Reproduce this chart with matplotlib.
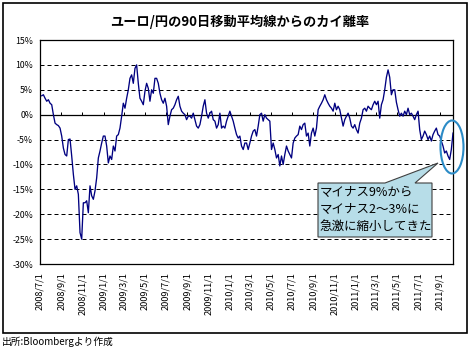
import numpy as np
import pandas as pd
import matplotlib
matplotlib.use("Agg")
import matplotlib.pyplot as plt
from matplotlib.patches import Polygon, Ellipse, Rectangle

plt.rcParams['font.family'] = ['Noto Sans CJK JP', 'DejaVu Sans']

# ---------------- data ----------------
title = "ユーロ/円の90日移動平均線からのカイ離率"
footer = "出所:Bloombergより作成"
note_lines = ["マイナス9%から", "マイナス2〜3%に", "急激に縮小してきた"]

start_date = "2008-07-06"
end_date = "2011-10-10"
axis_start = "2008-07-01"

# deviation (%), roughly every 5 days
seg1 = [3.8, 4.0, 3.3, 2.7, 3.0, 2.3, 2.0, 0.0, -1.7, -2.0, -2.2, -2.7, -4.3, -6.7, -8.0, -8.3,
        -5.0, -4.9, -8.3, -12.0, -15.0, -14.3, -16.0, -23.7, -25.0, -17.7, -17.7, -17.3, -19.7,
        -14.3, -16.3, -17.0, -15.3, -12.7, -8.7, -7.3, -5.7, -4.3, -4.3, -6.3, -9.7, -8.3, -9.0,
        -6.3, -7.3, -4.3, -4.0, -2.7, -0.3, 2.3, 1.3, 3.3, 5.0, 7.3, 8.0, 6.3, 9.3, 10.0, 6.3,
        3.3, 2.7, 2.0, 4.7, 6.3, 5.3, 2.7, 5.0, 4.3, 7.3, 7.3, 6.3, 4.3, 3.0, 2.3, 3.3, 1.7,
        -2.0, -0.3, 1.0, 1.3, 2.0, 3.0, 3.7, 1.7, 0.7, 0.3, 0.0, -1.0, -0.3, -0.3, -0.7, 0.3,
        -1.0, -2.3, -2.7, -2.0, -0.3, 1.7, 3.0, 0.3, -0.7, 0.3, 0.7, -1.0, -1.3, -2.7, -2.0,
        0.3, -2.7, -2.3, -2.7, -1.3, -0.3, 0.7]
seg2 = [-0.3, -1.3, -2.7, -4.0, -4.7, -4.3, -6.3, -7.0, -5.7, -5.7, -7.0, -5.7, -4.3, -3.3,
        -3.0, -4.3, -2.3, 0.0, 0.3, -1.3, 0.0, -0.7, -1.0, -1.3, -7.0, -5.7, -7.0, -8.7, -8.0,
        -10.3, -8.3, -10.0, -8.0, -6.3, -7.3, -8.0, -8.7, -5.7, -4.7, -4.3, -4.0, -2.3, -3.0,
        -2.0, -1.7, -4.3, -3.7, -6.3, -3.7, -2.7, -4.3, -2.7, 1.0, 1.7, 2.3, 3.0, 4.0, 3.0, 2.3,
        1.7, 1.3, 0.7, 2.3, 1.0, 1.7, 1.0, -0.7, -2.3, -1.0, -0.3, 0.3, -0.7]
seg3 = [-2.3, -2.7, -2.0, -3.0, -3.7, -1.7, -0.7, 1.0, 1.3, 0.7, 1.7, 1.3, 1.0, 2.0, 2.7, 2.0,
        2.7, -0.7, 2.0, 3.0, 5.0, 7.5, 9.0, 7.5, 4.0, 5.0, 5.0, 2.5, 1.0, -0.3, 0.3, -0.3, 0.7,
        0.0, 1.3, 0.0, 0.3, -0.3, -1.0, 0.0, 0.7, -3.0, -5.0, -4.3, -3.3, -4.0, -5.0, -4.3,
        -5.3, -4.0, -3.3, -2.7, -4.0, -4.3, -5.3, -6.3, -7.7, -7.3, -8.3, -9.0, -7.0, -3.7]
values = seg1 + seg2 + seg3
dates = pd.date_range(start_date, end_date, periods=len(values))

tick_dates = pd.date_range("2008-07-01", "2011-09-01", freq="2MS")
tick_labels = [f"{d.year}/{d.month}/{d.day}" for d in tick_dates]
y_ticks = list(range(-30, 16, 5))
y_labels = [f"{v}%" for v in y_ticks]
grid_levels = [v for v in y_ticks if v not in (-30, 0, 15)]

# ---------------- figure ----------------
W, H = 472, 351
fig = plt.figure(figsize=(W / 100, H / 100), dpi=100)
fig.patch.set_facecolor("white")

def fx(p):
    return p / W

def fy(p):
    return 1 - p / H

ax = fig.add_axes([fx(40), fy(264), fx(453) - fx(40), fy(40) - fy(264)])

for v in grid_levels:
    ax.axhline(v, color="black", lw=0.72, ls=(0, (4, 3)), zorder=1)
ax.axhline(0, color="black", lw=0.9, zorder=2)
ax.vlines(tick_dates, 0, 0.5, color="black", lw=0.72, zorder=2)

ax.plot(dates, values, color="#000080", lw=0.95, zorder=3)

ax.set_xlim(pd.Timestamp(axis_start), dates[-1])
ax.set_ylim(-30, 15)
ax.set_yticks(y_ticks)
ax.set_yticklabels(y_labels, fontsize=6.3)
ax.set_xticks(tick_dates)
ax.set_xticklabels(tick_labels, rotation=90, fontsize=6.6, va="top", ha="center")
ax.tick_params(axis="both", length=0)
ax.tick_params(axis="y", pad=5)
ax.tick_params(axis="x", pad=6)
for s in ax.spines.values():
    s.set_linewidth(0.9)
    s.set_color("black")

# title
fig.text(fx(240), fy(21.5), title, ha="center", va="center", fontsize=9.5, fontweight="bold")

# outer frame
fig.add_artist(Rectangle((fx(3), fy(333)), fx(467) - fx(3), fy(3) - fy(333),
                         transform=fig.transFigure, fill=False, ec="black", lw=1.2))

# footer
fig.text(fx(2), fy(342), footer, ha="left", va="center", fontsize=7)

# ellipse highlight
fig.add_artist(Ellipse((fx(452), fy(147)), 23 / W, 53 / H, transform=fig.transFigure,
                       fill=False, ec="#2B8BC6", lw=1.5, zorder=10))

# callout box
pts = [(318, 183), (385, 183), (438, 163), (415, 183), (432, 183), (432, 237), (318, 237)]
fig.add_artist(Polygon([(fx(a), fy(b)) for a, b in pts], closed=True, transform=fig.transFigure,
                       fc="#B7DDE8", ec="#404040", lw=0.8, zorder=9))
for i, line in enumerate(note_lines):
    fig.text(fx(320), fy(192 + 17.5 * i), line, ha="left", va="center", fontsize=9, zorder=11)

fig.savefig("out.png", dpi=100)
